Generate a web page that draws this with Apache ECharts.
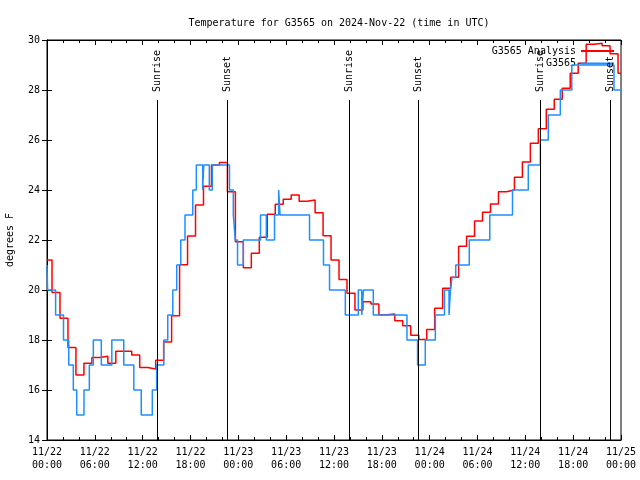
<!DOCTYPE html>
<html><head><meta charset="utf-8">
<script src="https://cdn.jsdelivr.net/npm/echarts@6/dist/echarts.min.js"></script>
<style>html,body{margin:0;padding:0;background:#fff}#c{width:640px;height:480px}</style>
</head><body><div id="c"></div>
<script>
// ---- data ----
const xTickLabels = ['11/22\n00:00','11/22\n06:00','11/22\n12:00','11/22\n18:00',
  '11/23\n00:00','11/23\n06:00','11/23\n12:00','11/23\n18:00',
  '11/24\n00:00','11/24\n06:00','11/24\n12:00','11/24\n18:00','11/25\n00:00'];
// Analysis: hourly values (step changes at :38 past each hour), hours since 11/22 00:00
const analysisFirstChange = 0.63;
const analysisValues = [21.2,19.9,18.87,17.7,16.6,17.07,17.3,17.35,17.07,17.55,17.55,17.4,16.9,16.84,17.19,
  17.92,18.97,21.01,22.16,23.4,24.15,25.0,25.1,23.93,21.93,20.89,21.47,22.11,23.03,23.43,23.63,23.8,23.55,
  23.6,23.09,22.17,21.2,20.42,19.87,19.2,19.53,19.44,19.01,19.04,18.77,18.57,18.19,18.02,18.42,19.27,20.07,
  20.51,21.75,22.15,22.76,23.11,23.44,23.93,24.0,24.51,25.12,25.87,26.45,27.23,27.63,28.07,28.67,29.07,
  29.83,29.87,29.77,29.45,28.67];
// Observations: change times (hours) and values
const obsHours = [0,0.075,1.08,2.07,2.73,3.30,3.73,4.64,5.31,5.81,6.81,8.13,9.63,10.89,11.82,13.21,13.75,
  14.65,15.15,15.78,16.27,16.78,17.31,18.29,18.73,19.53,19.66,20.36,20.74,22.89,23.37,23.62,23.90,24.62,
  26.78,27.51,28.54,29.06,29.23,32.93,34.68,35.44,37.42,39.05,39.48,39.70,40.93,45.15,46.48,47.45,48.71,
  49.86,50.43,50.61,50.80,51.27,52.97,55.54,58.39,60.37,61.88,62.88,64.39,65.83,71.12,72];
const obsValues = [21,20,19,18,17,16,15,16,17,18,17,18,17,16,15,16,17,18,19,20,21,22,23,24,25,24,25,24,25,
  24,23,22,21,22,23,22,23,24,23,22,21,20,19,20,19,20,19,18,17,18,19,20,19,20,20.5,21,22,23,24,25,26,27,28,
  29,28,28];
const sunHours = [13.83,22.62,37.92,46.58,61.88,70.62];
const sunLabels = ['Sunrise','Sunset','Sunrise','Sunset','Sunrise','Sunset'];

// ---- build ----
const analysisData = analysisValues.map((v,i)=>[i===0?0:i-1+analysisFirstChange, v]);
analysisData.push([72, analysisValues[analysisValues.length-1]]);
const obsData = obsHours.map((h,i)=>[h, obsValues[i]]);

const FONT = 'DejaVu Sans Mono';
const black = '#000';
const RED = '#ff0000', BLUE = '#1e8fff';
const tick = {show:true, inside:true, length:5, lineStyle:{color:black,width:1}};
const minor = {show:true, splitNumber:3, length:3, lineStyle:{color:black,width:1}};
const legendBase = {orient:'vertical', align:'right', right:26, padding:0, icon:'rect',
  itemWidth:33, itemHeight:2, textStyle:{fontFamily:FONT,fontSize:10,color:black}};

const chart = echarts.init(document.getElementById('c'), null, {renderer:'canvas'});
chart.setOption({
  animation:false,
  backgroundColor:'#fff',
  textStyle:{fontFamily:FONT},
  title:{text:'Temperature for G3565 on 2024-Nov-22 (time in UTC)', left:334, textAlign:'center', top:13,
    textStyle:{fontFamily:FONT, fontSize:10, fontWeight:'normal', color:black}},
  legend:[
    Object.assign({data:['G3565 Analysis'], top:46}, legendBase),
    Object.assign({data:['G3565'], top:58.5}, legendBase)
  ],
  grid:{left:47, right:19, top:40, bottom:40, show:true, borderColor:black, borderWidth:1,
    outerBoundsMode:'none'},
  xAxis:[
    {type:'value', min:0, max:72, interval:6, position:'bottom',
      axisLine:{show:true, lineStyle:{color:black}}, axisTick:tick, minorTick:minor,
      splitLine:{show:false},
      axisLabel:{color:black, fontFamily:FONT, fontSize:10, lineHeight:13, margin:6,
        formatter:v=>xTickLabels[Math.round(v/6)]}},
    {type:'value', min:0, max:72, interval:6, position:'top',
      axisLine:{show:true, lineStyle:{color:black}}, axisTick:tick, minorTick:minor,
      splitLine:{show:false}, axisLabel:{show:false}}
  ],
  yAxis:[
    {type:'value', min:14, max:30, interval:2, position:'left',
      name:'degrees F', nameLocation:'middle', nameGap:32,
      nameTextStyle:{fontFamily:FONT,fontSize:10,color:black},
      axisLine:{show:true, lineStyle:{color:black}}, axisTick:tick,
      splitLine:{show:false},
      axisLabel:{color:black, fontFamily:FONT, fontSize:10, margin:7}},
    {type:'value', min:14, max:30, interval:2, position:'right',
      axisLine:{show:true, lineStyle:{color:black}}, axisTick:tick,
      splitLine:{show:false}, axisLabel:{show:false}}
  ],
  series:[
    {name:'G3565 Analysis', type:'line', step:'end', data:analysisData, symbol:'none', showSymbol:false,
      xAxisIndex:0, yAxisIndex:0, lineStyle:{color:RED, width:1.5}, itemStyle:{color:RED}, z:3},
    {name:'G3565', type:'line', step:'end', data:obsData, symbol:'none', showSymbol:false,
      xAxisIndex:0, yAxisIndex:0, lineStyle:{color:BLUE, width:1.5}, itemStyle:{color:BLUE}, z:4},
    {name:'sun', type:'custom', xAxisIndex:0, yAxisIndex:0, z:5, silent:true,
      data:sunHours.map(h=>[h]),
      renderItem:(params, api)=>{
        const h = api.value(0);
        const p0 = api.coord([h, 14]);
        const p1 = api.coord([h, 27.6]);
        const pt = api.coord([h, 27.92]);
        const x = Math.round(p0[0]) + 0.5;
        return {type:'group', children:[
          {type:'line', shape:{x1:x, y1:p0[1], x2:x, y2:p1[1]}, style:{stroke:black, lineWidth:1}},
          {type:'text', x:x, y:pt[1], rotation:Math.PI/2,
            style:{text:sunLabels[params.dataIndex], font:'10px "'+FONT+'"', fill:black,
              align:'left', verticalAlign:'middle'}}
        ]};
      }}
  ]
});
</script></body></html>
